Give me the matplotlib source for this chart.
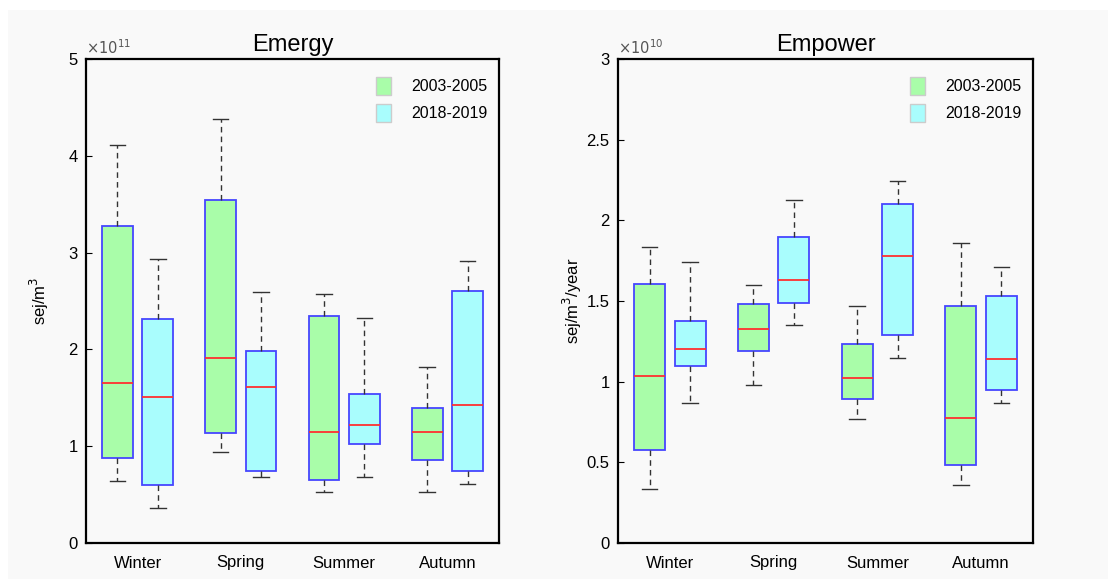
import matplotlib
matplotlib.use('Agg')
import matplotlib.pyplot as plt
from matplotlib.patches import Patch, Rectangle

plt.rcParams['font.family'] = ['Liberation Sans', 'DejaVu Sans']

# ── Data ──────────────────────────────────────────────────────────────────────
seasons = ["Winter", "Spring", "Summer", "Autumn"]
periods = ["2003-2005", "2018-2019"]

# Emergy, sej/m3
emergy_old_lo  = [0.64e11, 0.94e11, 0.53e11, 0.53e11]
emergy_old_q1  = [0.88e11, 1.14e11, 0.65e11, 0.86e11]
emergy_old_med = [1.65e11, 1.91e11, 1.15e11, 1.15e11]
emergy_old_q3  = [3.27e11, 3.54e11, 2.35e11, 1.39e11]
emergy_old_hi  = [4.11e11, 4.38e11, 2.57e11, 1.82e11]

emergy_new_lo  = [0.365e11, 0.68e11, 0.68e11, 0.61e11]
emergy_new_q1  = [0.60e11, 0.74e11, 1.02e11, 0.74e11]
emergy_new_med = [1.51e11, 1.61e11, 1.22e11, 1.43e11]
emergy_new_q3  = [2.31e11, 1.98e11, 1.54e11, 2.60e11]
emergy_new_hi  = [2.93e11, 2.59e11, 2.32e11, 2.91e11]

# Empower, sej/m3/year
empower_old_lo  = [0.337e10, 0.977e10, 0.771e10, 0.361e10]
empower_old_q1  = [0.578e10, 1.188e10, 0.893e10, 0.483e10]
empower_old_med = [1.033e10, 1.328e10, 1.025e10, 0.777e10]
empower_old_q3  = [1.605e10, 1.480e10, 1.236e10, 1.471e10]
empower_old_hi  = [1.833e10, 1.597e10, 1.471e10, 1.861e10]

empower_new_lo  = [0.868e10, 1.351e10, 1.147e10, 0.868e10]
empower_new_q1  = [1.099e10, 1.488e10, 1.287e10, 0.948e10]
empower_new_med = [1.200e10, 1.632e10, 1.779e10, 1.140e10]
empower_new_q3  = [1.376e10, 1.899e10, 2.103e10, 1.533e10]
empower_new_hi  = [1.742e10, 2.124e10, 2.244e10, 1.713e10]

GREEN = '#a9fda9'
CYAN  = '#a9fdfd'
EDGE  = '#4646ff'
BG    = '#f9f9f9'


def make_stats(lo, q1, med, q3, hi):
    return [dict(whislo=a, q1=b, med=c, q3=d, whishi=e, fliers=[])
            for a, b, c, d, e in zip(lo, q1, med, q3, hi)]


def draw_boxes(ax, stats, positions, color):
    ax.bxp(stats, positions=positions, widths=0.3, patch_artist=True,
           showfliers=False,
           boxprops=dict(facecolor=color, edgecolor=EDGE, linewidth=1.3),
           medianprops=dict(color='#ff3030', linewidth=1.3),
           whiskerprops=dict(color='#333333', linewidth=1.0, linestyle=(0, (4, 3))),
           capprops=dict(color='#333333', linewidth=1.0))


def style_axes(ax, title, ylabel, ylabel_x, ymax, yticks, yticklabels):
    ax.set_facecolor(BG)
    ax.set_xlim(0.5, 4.5)
    ax.set_ylim(0, ymax)
    ax.set_xticks(range(1, 5))
    ax.set_xticklabels(seasons, fontsize=12)
    ax.tick_params(axis='x', length=0, pad=9)
    ax.set_yticks(yticks)
    ax.set_yticklabels(yticklabels, fontsize=12)
    ax.tick_params(axis='y', direction='in', length=4, pad=6)
    for sp in ax.spines.values():
        sp.set_linewidth(1.6)
    ax.set_title(title, fontsize=17, pad=6)
    ax.set_ylabel(ylabel, fontsize=12)
    ax.yaxis.set_label_coords(ylabel_x, 0.5)
    ax.legend(handles=[Patch(facecolor=GREEN, edgecolor='#cccccc', label=periods[0]),
                       Patch(facecolor=CYAN, edgecolor='#cccccc', label=periods[1])],
              loc='upper right', bbox_to_anchor=(1.0, 0.985), frameon=False,
              fontsize=11.5, handlelength=0.9, handleheight=1.3, handletextpad=1.3,
              labelspacing=0.6, borderaxespad=0.3)


fig = plt.figure(figsize=(11.08, 5.79), dpi=100, facecolor='white')
fig.patches.append(Rectangle((8 / 1108, 0), 1, 1 - 10 / 579, transform=fig.transFigure,
                             facecolor=BG, edgecolor='none', zorder=-10))

ax1 = fig.add_axes([86 / 1108, 1 - 543 / 579, 413 / 1108, 484 / 579])
ax2 = fig.add_axes([618 / 1108, 1 - 543 / 579, 415 / 1108, 484 / 579])

left_pos  = [i + 1 - 0.195 for i in range(4)]
right_pos = [i + 1 + 0.195 for i in range(4)]

# ── Emergy panel ──────────────────────────────────────────────────────────────
draw_boxes(ax1, make_stats(emergy_old_lo, emergy_old_q1, emergy_old_med,
                           emergy_old_q3, emergy_old_hi), left_pos, GREEN)
draw_boxes(ax1, make_stats(emergy_new_lo, emergy_new_q1, emergy_new_med,
                           emergy_new_q3, emergy_new_hi), right_pos, CYAN)
style_axes(ax1, "Emergy", "sej/m$^3$", -0.084, 5e11,
           [i * 1e11 for i in range(6)], [str(i) for i in range(6)])
ax1.text(0.0, 1.005, r'$\times10^{11}$', transform=ax1.transAxes,
         fontsize=10.5, color='#555555', ha='left', va='bottom')

# ── Empower panel ─────────────────────────────────────────────────────────────
draw_boxes(ax2, make_stats(empower_old_lo, empower_old_q1, empower_old_med,
                           empower_old_q3, empower_old_hi), left_pos, GREEN)
draw_boxes(ax2, make_stats(empower_new_lo, empower_new_q1, empower_new_med,
                           empower_new_q3, empower_new_hi), right_pos, CYAN)
style_axes(ax2, "Empower", "sej/m$^3$/year", -0.081, 3e10,
           [i * 0.5e10 for i in range(7)], ['0', '0.5', '1', '1.5', '2', '2.5', '3'])
ax2.text(0.0, 1.005, r'$\times10^{10}$', transform=ax2.transAxes,
         fontsize=10.5, color='#555555', ha='left', va='bottom')

plt.savefig('out.png', dpi=100, facecolor=fig.get_facecolor())
